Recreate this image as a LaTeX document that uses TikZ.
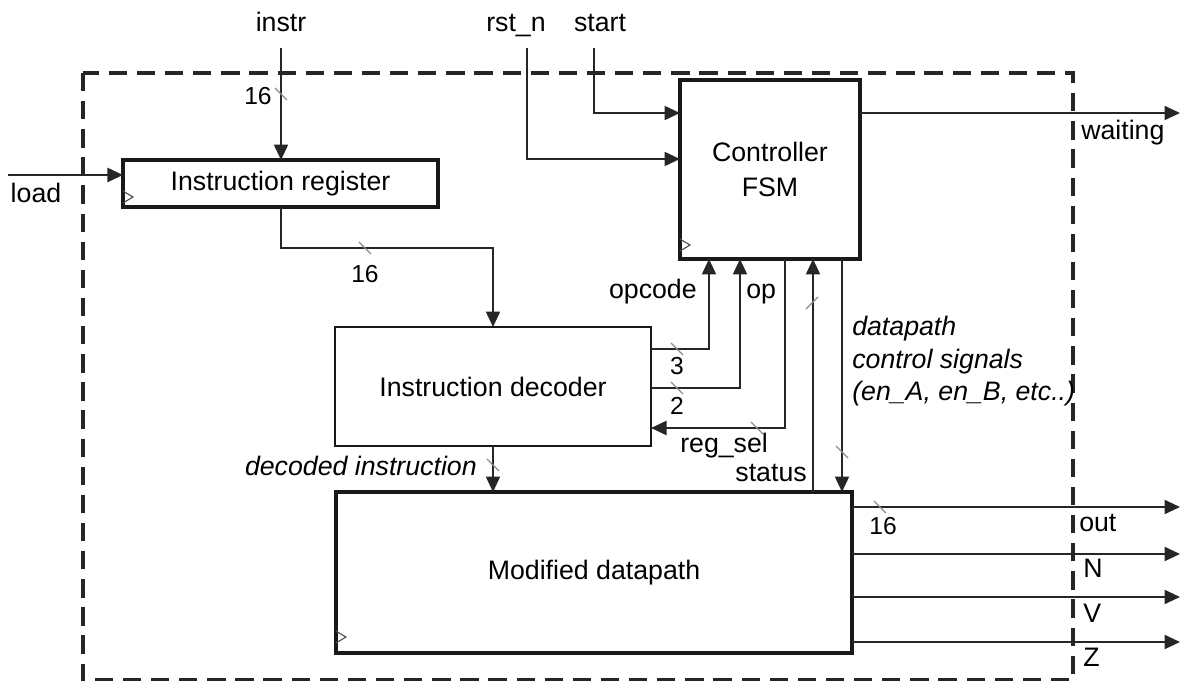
\documentclass[tikz,border=0pt]{standalone}
\usepackage{fontspec}
\setmainfont{Liberation Sans}
\usetikzlibrary{arrows.meta,positioning,calc}

\newcommand{\sigfont}{\fontsize{19}{23}\selectfont}
\newcommand{\busfont}{\fontsize{17.5}{20}\selectfont}
\newcommand{\bustick}[1]{\draw[tickmark] ($(#1)+(-6,-6)$) -- ++(12,12);}
\newcommand{\clkmark}[2]{\draw[clk] ($(#1)+(0,-#2-6)$) -- ++(10,6) -- ++(-10,6);}

\begin{document}
\begin{tikzpicture}[x=0.025cm, y=-0.025cm,
    regbox/.style={rectangle, draw=black!90, line width=2.6pt, inner sep=0pt,
                   outer sep=0pt, align=center, font=\sigfont},
    logicbox/.style={regbox, line width=1.2pt},
    lbl/.style={inner sep=0pt, font=\sigfont},
    ilbl/.style={inner sep=0pt, font=\sigfont\itshape},
    buslbl/.style={inner sep=0pt, font=\busfont},
    arr/.style={-{Triangle[length=11pt,width=10pt]}, line width=1.4pt, black!85},
    tickmark/.style={line width=0.8pt, black!45},
    clk/.style={line width=0.8pt, black!70}
  ]
    \useasboundingbox (0,0) rectangle (1180,681);

    % chip boundary
    \draw[line width=2.4pt, black!85, dash pattern=on 13pt off 7pt] (83,73) rectangle (1073,680);

    \node[regbox, minimum width=7.875cm, minimum height=1.175cm] (ireg) at (280.5,183.5) {Instruction register};
    \node[logicbox, minimum width=7.9cm, minimum height=2.975cm] (dec) at (493,386.5) {Instruction decoder};
    \node[regbox, minimum width=4.5cm, minimum height=4.475cm,
          font=\fontsize{19}{25}\selectfont] (fsm) at (770,169.5) {Controller\\FSM};
    \node[regbox, minimum width=12.9cm, minimum height=4.025cm] (dp) at (594,572.5) {Modified datapath};

    \clkmark{ireg.south west}{10}
    \clkmark{fsm.south west}{14}
    \clkmark{dp.south west}{16}

    % external inputs
    \coordinate (instrin) at (281,48);
    \coordinate (loadin) at (8,175);
    \coordinate (rstin) at (527,48);
    \coordinate (startin) at (594,48);
    \node[lbl, anchor=base] (instrlbl) at (281,32) {instr};
    \node[lbl, anchor=base] (loadlbl) at (36,203) {load};
    \node[lbl, anchor=base] (rstlbl) at (516,32) {rst\_n};
    \node[lbl, anchor=base] (startlbl) at (600,32) {start};

    \draw[arr] (instrin) -- (instrin |- ireg.north);
    \draw[arr] (loadin) -- (loadin -| ireg.west);
    \draw[arr] (rstin) |- (fsm.west |- 0,159);
    \draw[arr] (startin) |- (fsm.west |- 0,113);

    % internal wires
    \draw[arr] (instrin |- ireg.south) -- (281,248) -| (dec.north);
    \draw[arr] (dec.east |- 0,349) -| (709,0 |- fsm.south);
    \draw[arr] (dec.east |- 0,388) -| (740,0 |- fsm.south);
    \draw[arr] (785,0 |- fsm.south) |- (dec.east |- 0,428);
    \draw[arr] (813,0 |- dp.north) -- (813,0 |- fsm.south);
    \draw[arr] (842,0 |- fsm.south) -- (842,0 |- dp.north);
    \draw[arr] (dec.south) -- (dp.north -| dec.south);

    \node[lbl, anchor=base east] (opcodelbl) at (697,299) {opcode};
    \node[lbl, anchor=base west] (oplbl) at (746,299) {op};
    \node[lbl, anchor=base west] (regsellbl) at (680,453) {reg\_sel};
    \node[lbl, anchor=base east] (statuslbl) at (807,482) {status};
    \node[ilbl, anchor=base east] (decodedlbl) at (477,476) {decoded instruction};
    \node[ilbl, anchor=base west, align=left,
          font=\fontsize{19}{23.4}\selectfont\itshape] (ctrllbl) at (852,401)
          {datapath\\control signals\\(en\_A, en\_B, etc..)};

    % outputs
    \coordinate (waitout) at (1180,113);
    \draw[arr] (fsm.east |- waitout) -- (waitout);
    \node[lbl, anchor=base west] (waitlbl) at (1081,140) {waiting};
    \foreach \y in {507,554,597,642}
      \draw[arr] (dp.east |- 0,\y) -- (1180,\y);
    \node[lbl, anchor=base west] (outlbl) at (1079,532) {out};
    \node[lbl, anchor=base west] (nlbl) at (1083,578) {N};
    \node[lbl, anchor=base west] (vlbl) at (1083,623) {V};
    \node[lbl, anchor=base west] (zlbl) at (1083,667) {Z};

    % bus widths
    \bustick{281,94}
    \bustick{365,248}
    \bustick{677,349}
    \bustick{677,388}
    \bustick{757,428}
    \draw[tickmark] (806,309) -- ++(12,-12);
    \bustick{842,452}
    \bustick{493,465}
    \bustick{880,507}
    \node[buslbl, anchor=base] (w1) at (258,105) {16};
    \node[buslbl, anchor=base] (w2) at (365,283) {16};
    \node[buslbl, anchor=base] (w3) at (677,375) {3};
    \node[buslbl, anchor=base] (w4) at (677,415) {2};
    \node[buslbl, anchor=base] (w5) at (883,535) {16};
  \end{tikzpicture}
\end{document}
